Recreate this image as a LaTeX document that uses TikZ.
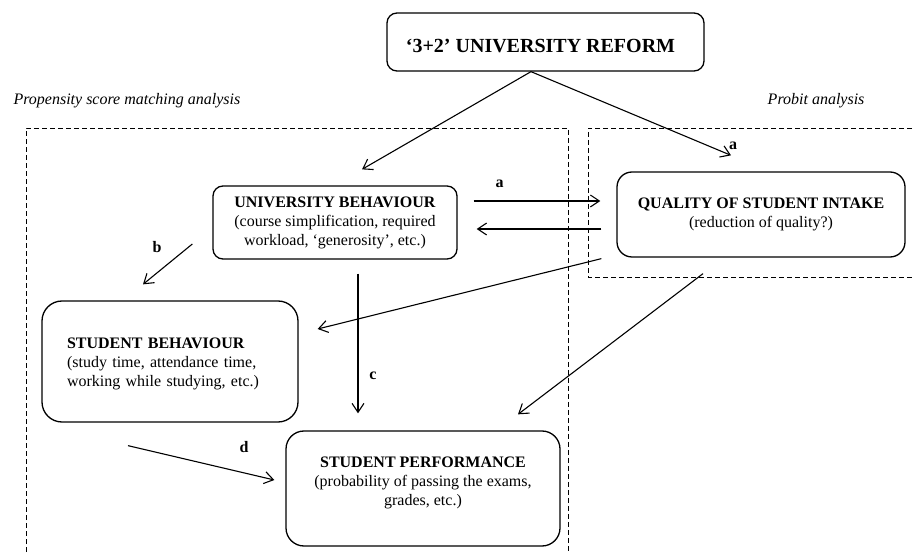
\documentclass[tikz,border=0pt]{standalone}
\usepackage{fontspec}
\setmainfont{Liberation Serif}
\usetikzlibrary{arrows.meta,positioning,calc}

\begin{document}
\begin{tikzpicture}[
  x=1pt, y=-1pt,
  every node/.style={font=\fontsize{16}{19}\selectfont},
  box/.style={rectangle, draw, line width=1.3pt, rounded corners=10pt, align=center, inner sep=0pt},
  arr/.style={-{Straight Barb[length=9pt,width=12pt]}, line width=1.1pt},
  zone/.style={draw, line width=0.8pt, dash pattern=on 5pt off 3pt},
  lbl/.style={font=\fontsize{16}{19}\selectfont\bfseries},
  note/.style={font=\fontsize{16}{19}\selectfont\itshape},
]
\useasboundingbox (0,0) rectangle (914,553);

\draw[zone] (26,560) -- (26,128) -- (568,128) -- (568,560);
\draw[zone] (920,128) -- (588,128) -- (588,277) -- (920,277);

\node[note, anchor=west] (psm) at (10,101) {Propensity score matching analysis};
\node[note, anchor=east] (probit) at (868,101) {Probit analysis};

\node[box, minimum width=317pt, minimum height=58pt, font=\fontsize{20}{24}\selectfont\bfseries, text height=22pt, text depth=0pt] (reform) at (545.5,42) {`3+2' UNIVERSITY REFORM\hspace*{10pt}};

\node[box, minimum width=244pt, minimum height=73pt] (univ) at (335,222.5) {\textbf{UNIVERSITY BEHAVIOUR}\\(course simplification, required\\workload, `generosity', etc.)};
\node[box, rounded corners=15pt, minimum width=288pt, minimum height=85pt] (qual) at (761,214.5) {\textbf{QUALITY OF STUDENT INTAKE}\\(reduction of quality?)};
\node[box, rounded corners=20pt, minimum width=256pt, minimum height=121pt, align=left, text width=206pt] (stud) at (170,361.5) {\mbox{}\\[-4pt]\textbf{STUDENT BEHAVIOUR}\\(study time, attendance time,\\working while studying, etc.)};
\node[box, rounded corners=18pt, minimum width=274pt, minimum height=115pt] (perf) at (423,488.5) {\textbf{STUDENT PERFORMANCE}\\(probability of passing the exams,\\grades, etc.)\\[-5pt]\mbox{}};

\draw[arr] ($(reform.south)+(-14.5,0)$) -- ($(univ.north)+(27,-16)$);
\draw[arr] ($(reform.south)+(-14.5,0)$) -- ($(qual.north)+(-30,-16)$);
\draw[arr] ($(univ.east)+(16,-21.5)$) -- ($(qual.west)+(-16,-13.5)$);
\draw[arr] ($(qual.west)+(-15,14.5)$) -- ($(univ.east)+(19,6.5)$);
\draw[arr] ($(qual.south west)+(-15,1)$) -- ($(stud.east)+(19,-32.5)$);
\draw[arr] ($(univ.west)+(-20,21.5)$) -- ($(stud.north)+(-27,-16)$);
\draw[arr] ($(univ.south)+(23,14)$) -- ($(perf.north)+(-65,-17)$);
\draw[arr] ($(stud.south)+(-42,23)$) -- ($(perf.west)+(-11,-8.5)$);
\draw[arr] ($(qual.south)+(-58,16)$) -- ($(perf.north)+(95,-16)$);

\node[lbl] (la) at (733,146) {a};
\node[lbl] (lb) at (499.5,184) {a};
\node[lbl] (lc) at (157,247.5) {b};
\node[lbl] (ld) at (373,376) {c};
\node[lbl] (le) at (244,447.5) {d};

\end{tikzpicture}
\end{document}
